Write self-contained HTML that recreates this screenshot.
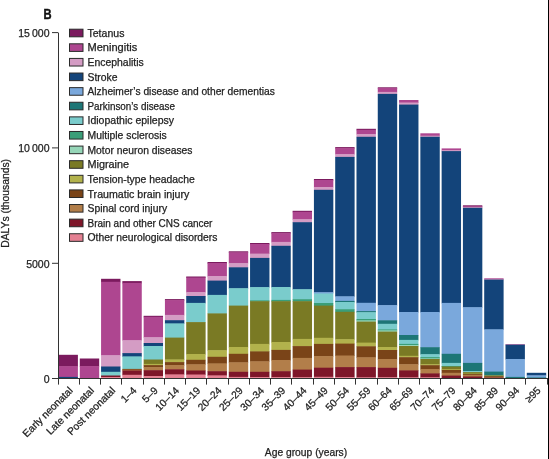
<!DOCTYPE html>
<html><head><meta charset="utf-8"><style>
html,body{margin:0;padding:0;background:#fff;}
body{width:549px;height:459px;overflow:hidden;position:relative;}
svg{position:absolute;left:0;top:0;will-change:transform;}
text{font-family:"Liberation Sans",sans-serif;fill:#222;stroke:#222;stroke-width:0.25px;}
</style></head><body>
<svg width="549" height="459" viewBox="0 0 549 459">

<rect x="58.50" y="354.80" width="19.4" height="11.90" fill="#7b1a5e"/>
<rect x="58.50" y="366.20" width="19.4" height="11.20" fill="#ae4690"/>
<rect x="58.50" y="376.90" width="19.4" height="1.10" fill="#13447a"/>
<rect x="79.78" y="358.50" width="19.4" height="8.10" fill="#7b1a5e"/>
<rect x="79.78" y="366.10" width="19.4" height="11.90" fill="#ae4690"/>
<rect x="101.07" y="278.80" width="19.4" height="3.50" fill="#7b1a5e"/>
<rect x="101.07" y="281.80" width="19.4" height="73.90" fill="#ae4690"/>
<rect x="101.07" y="355.20" width="19.4" height="11.80" fill="#d49cc4"/>
<rect x="101.07" y="366.50" width="19.4" height="5.80" fill="#13447a"/>
<rect x="101.07" y="371.80" width="19.4" height="4.20" fill="#7acccc"/>
<rect x="101.07" y="375.50" width="19.4" height="2.00" fill="#7e1629"/>
<rect x="101.07" y="377.00" width="19.4" height="1.00" fill="#e48092"/>
<rect x="122.36" y="281.10" width="19.4" height="2.30" fill="#7b1a5e"/>
<rect x="122.36" y="282.90" width="19.4" height="57.80" fill="#ae4690"/>
<rect x="122.36" y="340.20" width="19.4" height="13.40" fill="#d49cc4"/>
<rect x="122.36" y="353.10" width="19.4" height="3.80" fill="#13447a"/>
<rect x="122.36" y="356.40" width="19.4" height="13.00" fill="#7acccc"/>
<rect x="122.36" y="368.90" width="19.4" height="1.30" fill="#7a4418"/>
<rect x="122.36" y="369.70" width="19.4" height="1.30" fill="#b27e4a"/>
<rect x="122.36" y="370.50" width="19.4" height="4.80" fill="#7e1629"/>
<rect x="122.36" y="374.80" width="19.4" height="3.20" fill="#e48092"/>
<rect x="143.64" y="315.80" width="19.4" height="1.50" fill="#7b1a5e"/>
<rect x="143.64" y="316.80" width="19.4" height="20.90" fill="#ae4690"/>
<rect x="143.64" y="337.20" width="19.4" height="6.30" fill="#d49cc4"/>
<rect x="143.64" y="343.00" width="19.4" height="3.50" fill="#13447a"/>
<rect x="143.64" y="346.00" width="19.4" height="14.00" fill="#7acccc"/>
<rect x="143.64" y="359.50" width="19.4" height="4.90" fill="#7a7a24"/>
<rect x="143.64" y="363.90" width="19.4" height="1.70" fill="#b2b24c"/>
<rect x="143.64" y="365.10" width="19.4" height="2.50" fill="#7a4418"/>
<rect x="143.64" y="367.10" width="19.4" height="3.60" fill="#b27e4a"/>
<rect x="143.64" y="370.20" width="19.4" height="6.30" fill="#7e1629"/>
<rect x="143.64" y="376.00" width="19.4" height="2.00" fill="#e48092"/>
<rect x="164.93" y="299.10" width="19.4" height="1.50" fill="#7b1a5e"/>
<rect x="164.93" y="300.10" width="19.4" height="15.30" fill="#ae4690"/>
<rect x="164.93" y="314.90" width="19.4" height="5.80" fill="#d49cc4"/>
<rect x="164.93" y="320.20" width="19.4" height="3.70" fill="#13447a"/>
<rect x="164.93" y="323.40" width="19.4" height="14.70" fill="#7acccc"/>
<rect x="164.93" y="337.60" width="19.4" height="22.30" fill="#7a7a24"/>
<rect x="164.93" y="359.40" width="19.4" height="3.20" fill="#b2b24c"/>
<rect x="164.93" y="362.10" width="19.4" height="3.50" fill="#7a4418"/>
<rect x="164.93" y="365.10" width="19.4" height="4.70" fill="#b27e4a"/>
<rect x="164.93" y="369.30" width="19.4" height="5.60" fill="#7e1629"/>
<rect x="164.93" y="374.40" width="19.4" height="3.60" fill="#e48092"/>
<rect x="186.21" y="276.50" width="19.4" height="1.50" fill="#7b1a5e"/>
<rect x="186.21" y="277.50" width="19.4" height="15.00" fill="#ae4690"/>
<rect x="186.21" y="292.00" width="19.4" height="4.50" fill="#d49cc4"/>
<rect x="186.21" y="296.00" width="19.4" height="7.40" fill="#13447a"/>
<rect x="186.21" y="302.90" width="19.4" height="19.70" fill="#7acccc"/>
<rect x="186.21" y="322.10" width="19.4" height="32.40" fill="#7a7a24"/>
<rect x="186.21" y="354.00" width="19.4" height="6.30" fill="#b2b24c"/>
<rect x="186.21" y="359.80" width="19.4" height="5.00" fill="#7a4418"/>
<rect x="186.21" y="364.30" width="19.4" height="6.70" fill="#b27e4a"/>
<rect x="186.21" y="370.50" width="19.4" height="4.50" fill="#7e1629"/>
<rect x="186.21" y="374.50" width="19.4" height="3.50" fill="#e48092"/>
<rect x="207.50" y="262.00" width="19.4" height="1.50" fill="#7b1a5e"/>
<rect x="207.50" y="263.00" width="19.4" height="13.50" fill="#ae4690"/>
<rect x="207.50" y="276.00" width="19.4" height="5.10" fill="#d49cc4"/>
<rect x="207.50" y="280.60" width="19.4" height="14.80" fill="#13447a"/>
<rect x="207.50" y="294.90" width="19.4" height="19.00" fill="#7acccc"/>
<rect x="207.50" y="313.40" width="19.4" height="37.30" fill="#7a7a24"/>
<rect x="207.50" y="350.20" width="19.4" height="7.10" fill="#b2b24c"/>
<rect x="207.50" y="356.80" width="19.4" height="7.10" fill="#7a4418"/>
<rect x="207.50" y="363.40" width="19.4" height="8.30" fill="#b27e4a"/>
<rect x="207.50" y="371.20" width="19.4" height="4.70" fill="#7e1629"/>
<rect x="207.50" y="375.40" width="19.4" height="2.60" fill="#e48092"/>
<rect x="228.78" y="251.30" width="19.4" height="1.50" fill="#7b1a5e"/>
<rect x="228.78" y="252.30" width="19.4" height="11.30" fill="#ae4690"/>
<rect x="228.78" y="263.10" width="19.4" height="4.70" fill="#d49cc4"/>
<rect x="228.78" y="267.30" width="19.4" height="21.40" fill="#13447a"/>
<rect x="228.78" y="288.20" width="19.4" height="17.90" fill="#7acccc"/>
<rect x="228.78" y="305.60" width="19.4" height="41.90" fill="#7a7a24"/>
<rect x="228.78" y="347.00" width="19.4" height="7.30" fill="#b2b24c"/>
<rect x="228.78" y="353.80" width="19.4" height="9.00" fill="#7a4418"/>
<rect x="228.78" y="362.30" width="19.4" height="10.00" fill="#b27e4a"/>
<rect x="228.78" y="371.80" width="19.4" height="5.60" fill="#7e1629"/>
<rect x="228.78" y="376.90" width="19.4" height="1.10" fill="#e48092"/>
<rect x="250.06" y="243.00" width="19.4" height="1.50" fill="#7b1a5e"/>
<rect x="250.06" y="244.00" width="19.4" height="10.10" fill="#ae4690"/>
<rect x="250.06" y="253.60" width="19.4" height="4.80" fill="#d49cc4"/>
<rect x="250.06" y="257.90" width="19.4" height="29.70" fill="#13447a"/>
<rect x="250.06" y="287.10" width="19.4" height="13.70" fill="#7acccc"/>
<rect x="250.06" y="300.30" width="19.4" height="1.40" fill="#3a9e78"/>
<rect x="250.06" y="301.20" width="19.4" height="43.20" fill="#7a7a24"/>
<rect x="250.06" y="343.90" width="19.4" height="8.00" fill="#b2b24c"/>
<rect x="250.06" y="351.40" width="19.4" height="10.40" fill="#7a4418"/>
<rect x="250.06" y="361.30" width="19.4" height="11.00" fill="#b27e4a"/>
<rect x="250.06" y="371.80" width="19.4" height="5.70" fill="#7e1629"/>
<rect x="250.06" y="377.00" width="19.4" height="1.00" fill="#e48092"/>
<rect x="271.35" y="232.10" width="19.4" height="1.50" fill="#7b1a5e"/>
<rect x="271.35" y="233.10" width="19.4" height="9.30" fill="#ae4690"/>
<rect x="271.35" y="241.90" width="19.4" height="4.40" fill="#d49cc4"/>
<rect x="271.35" y="245.80" width="19.4" height="41.70" fill="#13447a"/>
<rect x="271.35" y="287.00" width="19.4" height="13.40" fill="#7acccc"/>
<rect x="271.35" y="299.90" width="19.4" height="1.80" fill="#3a9e78"/>
<rect x="271.35" y="301.20" width="19.4" height="41.30" fill="#7a7a24"/>
<rect x="271.35" y="342.00" width="19.4" height="8.40" fill="#b2b24c"/>
<rect x="271.35" y="349.90" width="19.4" height="10.60" fill="#7a4418"/>
<rect x="271.35" y="360.00" width="19.4" height="11.70" fill="#b27e4a"/>
<rect x="271.35" y="371.20" width="19.4" height="6.40" fill="#7e1629"/>
<rect x="271.35" y="377.10" width="19.4" height="0.90" fill="#e48092"/>
<rect x="292.63" y="210.80" width="19.4" height="1.50" fill="#7b1a5e"/>
<rect x="292.63" y="211.80" width="19.4" height="7.90" fill="#ae4690"/>
<rect x="292.63" y="219.20" width="19.4" height="3.50" fill="#d49cc4"/>
<rect x="292.63" y="222.20" width="19.4" height="67.50" fill="#13447a"/>
<rect x="292.63" y="289.20" width="19.4" height="10.50" fill="#7acccc"/>
<rect x="292.63" y="299.20" width="19.4" height="2.50" fill="#3a9e78"/>
<rect x="292.63" y="301.20" width="19.4" height="38.20" fill="#7a7a24"/>
<rect x="292.63" y="338.90" width="19.4" height="7.70" fill="#b2b24c"/>
<rect x="292.63" y="346.10" width="19.4" height="12.30" fill="#7a4418"/>
<rect x="292.63" y="357.90" width="19.4" height="12.20" fill="#b27e4a"/>
<rect x="292.63" y="369.60" width="19.4" height="8.10" fill="#7e1629"/>
<rect x="292.63" y="377.20" width="19.4" height="0.80" fill="#e48092"/>
<rect x="313.92" y="179.00" width="19.4" height="1.50" fill="#7b1a5e"/>
<rect x="313.92" y="180.00" width="19.4" height="7.50" fill="#ae4690"/>
<rect x="313.92" y="187.00" width="19.4" height="3.30" fill="#d49cc4"/>
<rect x="313.92" y="189.80" width="19.4" height="102.90" fill="#13447a"/>
<rect x="313.92" y="292.20" width="19.4" height="1.80" fill="#7aa8dc"/>
<rect x="313.92" y="293.50" width="19.4" height="10.00" fill="#7acccc"/>
<rect x="313.92" y="303.00" width="19.4" height="3.10" fill="#3a9e78"/>
<rect x="313.92" y="305.60" width="19.4" height="32.70" fill="#7a7a24"/>
<rect x="313.92" y="337.80" width="19.4" height="6.60" fill="#b2b24c"/>
<rect x="313.92" y="343.90" width="19.4" height="12.70" fill="#7a4418"/>
<rect x="313.92" y="356.10" width="19.4" height="12.10" fill="#b27e4a"/>
<rect x="313.92" y="367.70" width="19.4" height="9.60" fill="#7e1629"/>
<rect x="313.92" y="376.80" width="19.4" height="1.20" fill="#e48092"/>
<rect x="335.20" y="147.10" width="19.4" height="1.50" fill="#7b1a5e"/>
<rect x="335.20" y="148.10" width="19.4" height="6.50" fill="#ae4690"/>
<rect x="335.20" y="154.10" width="19.4" height="3.30" fill="#d49cc4"/>
<rect x="335.20" y="156.90" width="19.4" height="139.90" fill="#13447a"/>
<rect x="335.20" y="296.30" width="19.4" height="5.10" fill="#7aa8dc"/>
<rect x="335.20" y="300.90" width="19.4" height="1.60" fill="#1d7676"/>
<rect x="335.20" y="302.00" width="19.4" height="7.70" fill="#7acccc"/>
<rect x="335.20" y="309.20" width="19.4" height="3.10" fill="#3a9e78"/>
<rect x="335.20" y="311.80" width="19.4" height="27.90" fill="#7a7a24"/>
<rect x="335.20" y="339.20" width="19.4" height="4.90" fill="#b2b24c"/>
<rect x="335.20" y="343.60" width="19.4" height="12.40" fill="#7a4418"/>
<rect x="335.20" y="355.50" width="19.4" height="12.10" fill="#b27e4a"/>
<rect x="335.20" y="367.10" width="19.4" height="10.40" fill="#7e1629"/>
<rect x="335.20" y="377.00" width="19.4" height="1.00" fill="#e48092"/>
<rect x="356.49" y="128.80" width="19.4" height="1.50" fill="#7b1a5e"/>
<rect x="356.49" y="129.80" width="19.4" height="4.70" fill="#ae4690"/>
<rect x="356.49" y="134.00" width="19.4" height="3.30" fill="#d49cc4"/>
<rect x="356.49" y="136.80" width="19.4" height="166.50" fill="#13447a"/>
<rect x="356.49" y="302.80" width="19.4" height="8.80" fill="#7aa8dc"/>
<rect x="356.49" y="311.10" width="19.4" height="1.60" fill="#1d7676"/>
<rect x="356.49" y="312.20" width="19.4" height="7.30" fill="#7acccc"/>
<rect x="356.49" y="319.00" width="19.4" height="1.90" fill="#3a9e78"/>
<rect x="356.49" y="320.40" width="19.4" height="1.70" fill="#96d6b8"/>
<rect x="356.49" y="321.60" width="19.4" height="21.50" fill="#7a7a24"/>
<rect x="356.49" y="342.60" width="19.4" height="4.20" fill="#b2b24c"/>
<rect x="356.49" y="346.30" width="19.4" height="11.50" fill="#7a4418"/>
<rect x="356.49" y="357.30" width="19.4" height="10.30" fill="#b27e4a"/>
<rect x="356.49" y="367.10" width="19.4" height="10.70" fill="#7e1629"/>
<rect x="356.49" y="377.30" width="19.4" height="0.70" fill="#e48092"/>
<rect x="377.77" y="87.30" width="19.4" height="1.20" fill="#7b1a5e"/>
<rect x="377.77" y="88.00" width="19.4" height="4.40" fill="#ae4690"/>
<rect x="377.77" y="91.90" width="19.4" height="2.50" fill="#d49cc4"/>
<rect x="377.77" y="93.90" width="19.4" height="211.70" fill="#13447a"/>
<rect x="377.77" y="305.10" width="19.4" height="15.70" fill="#7aa8dc"/>
<rect x="377.77" y="320.30" width="19.4" height="4.00" fill="#1d7676"/>
<rect x="377.77" y="323.80" width="19.4" height="6.10" fill="#7acccc"/>
<rect x="377.77" y="329.40" width="19.4" height="1.50" fill="#3a9e78"/>
<rect x="377.77" y="330.40" width="19.4" height="1.70" fill="#96d6b8"/>
<rect x="377.77" y="331.60" width="19.4" height="15.90" fill="#7a7a24"/>
<rect x="377.77" y="347.00" width="19.4" height="3.50" fill="#b2b24c"/>
<rect x="377.77" y="350.00" width="19.4" height="9.50" fill="#7a4418"/>
<rect x="377.77" y="359.00" width="19.4" height="9.30" fill="#b27e4a"/>
<rect x="377.77" y="367.80" width="19.4" height="9.90" fill="#7e1629"/>
<rect x="377.77" y="377.20" width="19.4" height="0.80" fill="#e48092"/>
<rect x="399.06" y="100.00" width="19.4" height="3.00" fill="#ae4690"/>
<rect x="399.06" y="102.50" width="19.4" height="2.60" fill="#d49cc4"/>
<rect x="399.06" y="104.60" width="19.4" height="207.90" fill="#13447a"/>
<rect x="399.06" y="312.00" width="19.4" height="23.50" fill="#7aa8dc"/>
<rect x="399.06" y="335.00" width="19.4" height="5.40" fill="#1d7676"/>
<rect x="399.06" y="339.90" width="19.4" height="4.50" fill="#7acccc"/>
<rect x="399.06" y="343.90" width="19.4" height="1.60" fill="#3a9e78"/>
<rect x="399.06" y="345.00" width="19.4" height="1.50" fill="#96d6b8"/>
<rect x="399.06" y="346.00" width="19.4" height="10.30" fill="#7a7a24"/>
<rect x="399.06" y="355.80" width="19.4" height="1.90" fill="#b2b24c"/>
<rect x="399.06" y="357.20" width="19.4" height="7.50" fill="#7a4418"/>
<rect x="399.06" y="364.20" width="19.4" height="6.70" fill="#b27e4a"/>
<rect x="399.06" y="370.40" width="19.4" height="7.40" fill="#7e1629"/>
<rect x="399.06" y="377.30" width="19.4" height="0.70" fill="#e48092"/>
<rect x="420.35" y="133.30" width="19.4" height="2.90" fill="#ae4690"/>
<rect x="420.35" y="135.70" width="19.4" height="1.60" fill="#d49cc4"/>
<rect x="420.35" y="136.80" width="19.4" height="175.70" fill="#13447a"/>
<rect x="420.35" y="312.00" width="19.4" height="35.70" fill="#7aa8dc"/>
<rect x="420.35" y="347.20" width="19.4" height="7.50" fill="#1d7676"/>
<rect x="420.35" y="354.20" width="19.4" height="3.40" fill="#7acccc"/>
<rect x="420.35" y="357.10" width="19.4" height="1.80" fill="#3a9e78"/>
<rect x="420.35" y="358.40" width="19.4" height="1.10" fill="#96d6b8"/>
<rect x="420.35" y="359.00" width="19.4" height="5.70" fill="#7a7a24"/>
<rect x="420.35" y="364.20" width="19.4" height="1.50" fill="#b2b24c"/>
<rect x="420.35" y="365.20" width="19.4" height="4.30" fill="#7a4418"/>
<rect x="420.35" y="369.00" width="19.4" height="4.90" fill="#b27e4a"/>
<rect x="420.35" y="373.40" width="19.4" height="4.40" fill="#7e1629"/>
<rect x="420.35" y="377.30" width="19.4" height="0.70" fill="#e48092"/>
<rect x="441.63" y="148.40" width="19.4" height="2.30" fill="#ae4690"/>
<rect x="441.63" y="150.20" width="19.4" height="1.40" fill="#d49cc4"/>
<rect x="441.63" y="151.10" width="19.4" height="152.30" fill="#13447a"/>
<rect x="441.63" y="302.90" width="19.4" height="51.40" fill="#7aa8dc"/>
<rect x="441.63" y="353.80" width="19.4" height="9.60" fill="#1d7676"/>
<rect x="441.63" y="362.90" width="19.4" height="3.60" fill="#7acccc"/>
<rect x="441.63" y="366.00" width="19.4" height="1.00" fill="#3a9e78"/>
<rect x="441.63" y="366.50" width="19.4" height="3.10" fill="#7a7a24"/>
<rect x="441.63" y="369.10" width="19.4" height="1.30" fill="#b2b24c"/>
<rect x="441.63" y="369.90" width="19.4" height="3.40" fill="#7a4418"/>
<rect x="441.63" y="372.80" width="19.4" height="3.30" fill="#b27e4a"/>
<rect x="441.63" y="375.60" width="19.4" height="2.40" fill="#7e1629"/>
<rect x="441.63" y="378.00" width="19.4" height="0.00" fill="#e48092"/>
<rect x="462.92" y="205.30" width="19.4" height="1.50" fill="#7b1a5e"/>
<rect x="462.92" y="206.30" width="19.4" height="1.40" fill="#ae4690"/>
<rect x="462.92" y="207.20" width="19.4" height="1.10" fill="#d49cc4"/>
<rect x="462.92" y="207.80" width="19.4" height="99.90" fill="#13447a"/>
<rect x="462.92" y="307.20" width="19.4" height="56.20" fill="#7aa8dc"/>
<rect x="462.92" y="362.90" width="19.4" height="8.70" fill="#1d7676"/>
<rect x="462.92" y="371.10" width="19.4" height="1.50" fill="#7acccc"/>
<rect x="462.92" y="372.10" width="19.4" height="2.00" fill="#7a7a24"/>
<rect x="462.92" y="373.60" width="19.4" height="1.00" fill="#b2b24c"/>
<rect x="462.92" y="374.10" width="19.4" height="1.40" fill="#7a4418"/>
<rect x="462.92" y="375.00" width="19.4" height="2.00" fill="#b27e4a"/>
<rect x="462.92" y="376.50" width="19.4" height="1.50" fill="#7e1629"/>
<rect x="484.20" y="278.30" width="19.4" height="1.50" fill="#ae4690"/>
<rect x="484.20" y="279.30" width="19.4" height="0.80" fill="#d49cc4"/>
<rect x="484.20" y="279.60" width="19.4" height="50.20" fill="#13447a"/>
<rect x="484.20" y="329.30" width="19.4" height="42.80" fill="#7aa8dc"/>
<rect x="484.20" y="371.60" width="19.4" height="3.90" fill="#1d7676"/>
<rect x="484.20" y="375.00" width="19.4" height="0.80" fill="#7acccc"/>
<rect x="484.20" y="375.30" width="19.4" height="1.50" fill="#7a7a24"/>
<rect x="484.20" y="376.30" width="19.4" height="1.20" fill="#7a4418"/>
<rect x="484.20" y="377.00" width="19.4" height="1.00" fill="#b27e4a"/>
<rect x="484.20" y="377.60" width="19.4" height="0.40" fill="#7e1629"/>
<rect x="505.49" y="344.30" width="19.4" height="0.90" fill="#ae4690"/>
<rect x="505.49" y="344.70" width="19.4" height="14.80" fill="#13447a"/>
<rect x="505.49" y="359.00" width="19.4" height="18.40" fill="#7aa8dc"/>
<rect x="505.49" y="376.90" width="19.4" height="1.10" fill="#1d7676"/>
<rect x="526.77" y="372.80" width="19.4" height="3.00" fill="#13447a"/>
<rect x="526.77" y="375.30" width="19.4" height="2.70" fill="#7aa8dc"/>
<rect x="526.77" y="377.50" width="19.4" height="0.50" fill="#1d7676"/>
<g stroke="#333" stroke-width="1" fill="none">
<path d="M58.5 32.6 V379"/>
<path d="M52 378.5 H547.5"/>
<path d="M52 32.6 H58"/>
<path d="M52 147.9 H58"/>
<path d="M52 263.3 H58"/>
<path d="M58.50 378 V384.6"/>
<path d="M79.50 378 V384.6"/>
<path d="M100.50 378 V384.6"/>
<path d="M121.50 378 V384.6"/>
<path d="M143.50 378 V384.6"/>
<path d="M164.50 378 V384.6"/>
<path d="M185.50 378 V384.6"/>
<path d="M206.50 378 V384.6"/>
<path d="M228.50 378 V384.6"/>
<path d="M249.50 378 V384.6"/>
<path d="M270.50 378 V384.6"/>
<path d="M291.50 378 V384.6"/>
<path d="M313.50 378 V384.6"/>
<path d="M334.50 378 V384.6"/>
<path d="M355.50 378 V384.6"/>
<path d="M377.50 378 V384.6"/>
<path d="M398.50 378 V384.6"/>
<path d="M419.50 378 V384.6"/>
<path d="M440.50 378 V384.6"/>
<path d="M462.50 378 V384.6"/>
<path d="M483.50 378 V384.6"/>
<path d="M504.50 378 V384.6"/>
<path d="M525.50 378 V384.6"/>
<path d="M547.50 378 V384.6"/>
</g>
<text x="49.5" y="36.800000000000004" font-size="10.5" text-anchor="end">15 000</text>
<text x="49.5" y="152.1" font-size="10.5" text-anchor="end">10 000</text>
<text x="49.5" y="267.5" font-size="10.5" text-anchor="end">5000</text>
<text x="49.5" y="382.59999999999997" font-size="10.5" text-anchor="end">0</text>
<text transform="translate(9.2,203.4) rotate(-90)" font-size="10.2" text-anchor="middle" textLength="88.8" lengthAdjust="spacingAndGlyphs">DALYs (thousands)</text>
<text x="306" y="456" font-size="10.3" text-anchor="middle">Age group (years)</text>
<text transform="translate(73.40,391.2) rotate(-45)" font-size="10.3" text-anchor="end">Early neonatal</text>
<text transform="translate(94.67,391.2) rotate(-45)" font-size="10.3" text-anchor="end">Late neonatal</text>
<text transform="translate(115.94,391.2) rotate(-45)" font-size="10.3" text-anchor="end">Post neonatal</text>
<text transform="translate(137.21,391.2) rotate(-45)" font-size="10.3" text-anchor="end">1–4</text>
<text transform="translate(158.48,391.2) rotate(-45)" font-size="10.3" text-anchor="end">5–9</text>
<text transform="translate(179.75,391.2) rotate(-45)" font-size="10.3" text-anchor="end">10–14</text>
<text transform="translate(201.02,391.2) rotate(-45)" font-size="10.3" text-anchor="end">15–19</text>
<text transform="translate(222.29,391.2) rotate(-45)" font-size="10.3" text-anchor="end">20–24</text>
<text transform="translate(243.56,391.2) rotate(-45)" font-size="10.3" text-anchor="end">25–29</text>
<text transform="translate(264.83,391.2) rotate(-45)" font-size="10.3" text-anchor="end">30–34</text>
<text transform="translate(286.10,391.2) rotate(-45)" font-size="10.3" text-anchor="end">35–39</text>
<text transform="translate(307.37,391.2) rotate(-45)" font-size="10.3" text-anchor="end">40–44</text>
<text transform="translate(328.64,391.2) rotate(-45)" font-size="10.3" text-anchor="end">45–49</text>
<text transform="translate(349.91,391.2) rotate(-45)" font-size="10.3" text-anchor="end">50–54</text>
<text transform="translate(371.18,391.2) rotate(-45)" font-size="10.3" text-anchor="end">55–59</text>
<text transform="translate(392.45,391.2) rotate(-45)" font-size="10.3" text-anchor="end">60–64</text>
<text transform="translate(413.72,391.2) rotate(-45)" font-size="10.3" text-anchor="end">65–69</text>
<text transform="translate(434.99,391.2) rotate(-45)" font-size="10.3" text-anchor="end">70–74</text>
<text transform="translate(456.26,391.2) rotate(-45)" font-size="10.3" text-anchor="end">75–79</text>
<text transform="translate(477.53,391.2) rotate(-45)" font-size="10.3" text-anchor="end">80–84</text>
<text transform="translate(498.80,391.2) rotate(-45)" font-size="10.3" text-anchor="end">85–89</text>
<text transform="translate(520.07,391.2) rotate(-45)" font-size="10.3" text-anchor="end">90–94</text>
<text transform="translate(541.34,391.2) rotate(-45)" font-size="10.3" text-anchor="end">≥95</text>
<text transform="translate(43.4,18.8) scale(0.8,0.98)" font-size="14" font-weight="bold" style="fill:#111;stroke:#111;stroke-width:0.45px">B</text>
<rect x="69.5" y="29.20" width="13.5" height="7.6" fill="#7b1a5e" stroke="#2a2a2a" stroke-width="1"/>
<text x="87.5" y="36.80" font-size="10.2" textLength="36.9" lengthAdjust="spacingAndGlyphs">Tetanus</text>
<rect x="69.5" y="43.81" width="13.5" height="7.6" fill="#ae4690" stroke="#2a2a2a" stroke-width="1"/>
<text x="87.5" y="51.41" font-size="10.2" textLength="49.7" lengthAdjust="spacingAndGlyphs">Meningitis</text>
<rect x="69.5" y="58.42" width="13.5" height="7.6" fill="#d49cc4" stroke="#2a2a2a" stroke-width="1"/>
<text x="87.5" y="66.02" font-size="10.2" textLength="56.2" lengthAdjust="spacingAndGlyphs">Encephalitis</text>
<rect x="69.5" y="73.03" width="13.5" height="7.6" fill="#13447a" stroke="#2a2a2a" stroke-width="1"/>
<text x="87.5" y="80.63" font-size="10.2" textLength="30" lengthAdjust="spacingAndGlyphs">Stroke</text>
<rect x="69.5" y="87.64" width="13.5" height="7.6" fill="#7aa8dc" stroke="#2a2a2a" stroke-width="1"/>
<text x="87.5" y="95.24" font-size="10.2" textLength="187.3" lengthAdjust="spacingAndGlyphs">Alzheimer’s disease and other dementias</text>
<rect x="69.5" y="102.25" width="13.5" height="7.6" fill="#1d7676" stroke="#2a2a2a" stroke-width="1"/>
<text x="87.5" y="109.85" font-size="10.2" textLength="87.5" lengthAdjust="spacingAndGlyphs">Parkinson’s disease</text>
<rect x="69.5" y="116.86" width="13.5" height="7.6" fill="#7acccc" stroke="#2a2a2a" stroke-width="1"/>
<text x="87.5" y="124.46" font-size="10.2" textLength="86.5" lengthAdjust="spacingAndGlyphs">Idiopathic epilepsy</text>
<rect x="69.5" y="131.47" width="13.5" height="7.6" fill="#3a9e78" stroke="#2a2a2a" stroke-width="1"/>
<text x="87.5" y="139.07" font-size="10.2" textLength="79.2" lengthAdjust="spacingAndGlyphs">Multiple sclerosis</text>
<rect x="69.5" y="146.08" width="13.5" height="7.6" fill="#96d6b8" stroke="#2a2a2a" stroke-width="1"/>
<text x="87.5" y="153.68" font-size="10.2" textLength="105" lengthAdjust="spacingAndGlyphs">Motor neuron diseases</text>
<rect x="69.5" y="160.69" width="13.5" height="7.6" fill="#7a7a24" stroke="#2a2a2a" stroke-width="1"/>
<text x="87.5" y="168.29" font-size="10.2" textLength="41.6" lengthAdjust="spacingAndGlyphs">Migraine</text>
<rect x="69.5" y="175.30" width="13.5" height="7.6" fill="#b2b24c" stroke="#2a2a2a" stroke-width="1"/>
<text x="87.5" y="182.90" font-size="10.2" textLength="107.3" lengthAdjust="spacingAndGlyphs">Tension-type headache</text>
<rect x="69.5" y="189.91" width="13.5" height="7.6" fill="#7a4418" stroke="#2a2a2a" stroke-width="1"/>
<text x="87.5" y="197.51" font-size="10.2" textLength="101.8" lengthAdjust="spacingAndGlyphs">Traumatic brain injury</text>
<rect x="69.5" y="204.52" width="13.5" height="7.6" fill="#b27e4a" stroke="#2a2a2a" stroke-width="1"/>
<text x="87.5" y="212.12" font-size="10.2" textLength="79.6" lengthAdjust="spacingAndGlyphs">Spinal cord injury</text>
<rect x="69.5" y="219.13" width="13.5" height="7.6" fill="#7e1629" stroke="#2a2a2a" stroke-width="1"/>
<text x="87.5" y="226.73" font-size="10.2" textLength="124.9" lengthAdjust="spacingAndGlyphs">Brain and other CNS cancer</text>
<rect x="69.5" y="233.74" width="13.5" height="7.6" fill="#e48092" stroke="#2a2a2a" stroke-width="1"/>
<text x="87.5" y="241.34" font-size="10.2" textLength="130" lengthAdjust="spacingAndGlyphs">Other neurological disorders</text>
<rect x="548" y="0" width="1" height="459" fill="#000"/>
</svg></body></html>
